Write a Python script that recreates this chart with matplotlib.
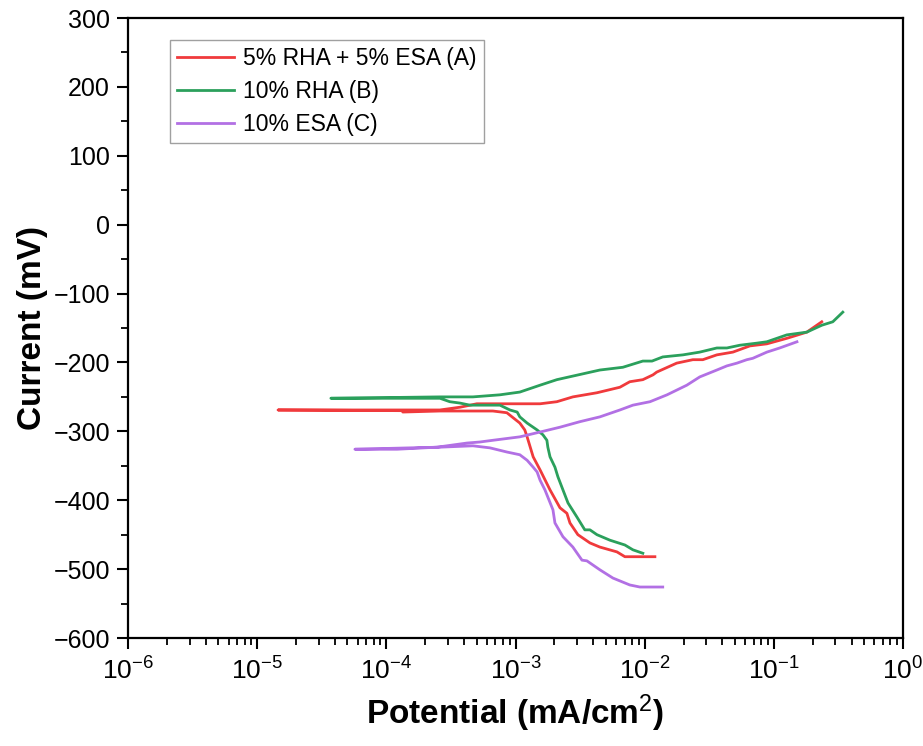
import matplotlib
matplotlib.use("Agg")
import matplotlib.pyplot as plt
from matplotlib.ticker import FixedLocator, MultipleLocator, NullFormatter, LogFormatterMathtext

plt.rcParams['font.family'] = ['Liberation Sans', 'DejaVu Sans']
plt.rcParams['mathtext.fontset'] = 'custom'
plt.rcParams['mathtext.rm'] = 'Liberation Sans'
plt.rcParams['mathtext.it'] = 'Liberation Sans:italic'
plt.rcParams['mathtext.bf'] = 'Liberation Sans:bold'

labels = ["5% RHA + 5% ESA (A)", "10% RHA (B)", "10% ESA (C)"]
colors = ["#F03A3C", "#2BA05C", "#B270E4"]
x_major = [1e-6, 1e-5, 1e-4, 1e-3, 1e-2, 1e-1, 1e0]

# Series A: current density (mA/cm2) and potential (mV), cathodic -> Ecorr -> anodic
a_i = [0.0120, 0.00703, 0.00610, 0.00450, 0.00377, 0.00304, 0.00264, 0.00250, 0.00221,
       0.00185, 0.00155, 0.00137, 0.00123, 0.00118, 0.00108, 0.000857, 0.000668, 0.000260,
       0.000134, 0.000134, 1.45e-5,
       0.000260, 0.000372, 0.000502, 0.000757, 0.00155, 0.00209, 0.00278, 0.00427, 0.00643,
       0.00767, 0.00968, 0.0116, 0.0124, 0.0177, 0.0236, 0.0282, 0.0362, 0.0482, 0.0652,
       0.0883, 0.126, 0.180, 0.235]
a_e = [-482, -482, -475, -468, -462, -450, -433, -419, -411,
       -385, -356, -337, -308, -298, -288, -273, -270.5, -270.5,
       -272, -270, -269,
       -269, -265, -260, -260, -260, -257, -250, -244, -236,
       -228, -225, -218, -214, -201, -196, -196, -189, -185, -176,
       -173, -165, -156, -141]

# Series B
b_i = [0.00968, 0.00811, 0.00703, 0.00538, 0.00427, 0.00377, 0.00344, 0.00298, 0.00255,
       0.00233, 0.00213, 0.00202, 0.00185, 0.00178, 0.00175, 0.00163, 0.00147, 0.00123,
       0.00108, 0.00103, 0.000906, 0.000757, 0.000444, 0.000372, 0.000310, 0.000260, 3.72e-5,
       0.000260, 0.000468, 0.000757, 0.00108, 0.00155, 0.00209, 0.00450, 0.00678, 0.00968,
       0.0114, 0.0138, 0.0198, 0.0267, 0.0362, 0.0433, 0.0546, 0.0738, 0.0883, 0.126,
       0.180, 0.235, 0.286, 0.342]
b_e = [-477, -472, -465, -458, -450, -443, -443, -424, -404,
       -385, -366, -352, -337, -323, -313, -305, -298, -288,
       -279, -272, -269, -262, -262, -259, -257, -252, -252,
       -250, -250, -247, -243, -233, -225, -211, -207, -198,
       -198, -192, -189, -185, -179, -179, -175, -172, -170, -160,
       -156, -146, -141, -127]

# Series C
c_i = [0.0138, 0.00918, 0.00767, 0.00568, 0.00450, 0.00357, 0.00327, 0.00278, 0.00233,
       0.00202, 0.00195, 0.00169, 0.00155, 0.00147, 0.00137, 0.00123, 0.00108, 0.000857,
       0.000634, 0.000468, 0.000260, 0.000152, 5.71e-5,
       0.000121, 0.000247, 0.000421, 0.000529, 0.000668, 0.00108, 0.00155, 0.00221, 0.00315,
       0.00450, 0.00643, 0.00811, 0.0110, 0.0149, 0.0212, 0.0267, 0.0362, 0.0433, 0.0518,
       0.0618, 0.0687, 0.0883, 0.111, 0.151]
c_e = [-526, -526, -523, -513, -501, -488, -487, -468, -453,
       -433, -414, -385, -371, -359, -352, -342, -334, -330,
       -324, -321, -323, -324, -326,
       -326, -323, -317, -315.5, -313, -308, -301, -294, -286,
       -279, -269, -262, -257, -247, -233, -221, -211, -205, -201,
       -196, -194, -185, -179, -170]

fig = plt.figure(figsize=(9.23, 7.46), dpi=100)
ax = fig.add_axes([128/923, 108/746, 775/923, 620/746])

for xs, ys, lab, col in zip([a_i, b_i, c_i], [a_e, b_e, c_e], labels, colors):
    ax.plot(xs, ys, color=col, lw=2.0, label=lab, solid_joinstyle='round')

ax.set_xscale('log')
ax.set_xlim(x_major[0], x_major[-1])
ax.set_ylim(-600, 300)
ax.xaxis.set_major_locator(FixedLocator(x_major))
ax.xaxis.set_major_formatter(LogFormatterMathtext())
ax.xaxis.set_minor_locator(FixedLocator([m * d for d in x_major[:-1] for m in range(2, 10)]))
ax.xaxis.set_minor_formatter(NullFormatter())
ax.yaxis.set_major_locator(MultipleLocator(100))
ax.yaxis.set_minor_locator(MultipleLocator(50))

for s in ax.spines.values():
    s.set_linewidth(1.6)
ax.tick_params(which='major', direction='out', length=8, width=1.5, pad=5,
               top=False, right=False)
ax.tick_params(axis='x', which='major', labelsize=19, pad=6)
ax.tick_params(axis='y', which='major', labelsize=18)
ax.tick_params(which='minor', direction='out', length=5, width=1.3, top=False, right=False)

ax.set_xlabel("Potential (mA/cm$^{2}$)", fontsize=24, fontweight='bold', labelpad=6)
ax.set_ylabel("Current (mV)", fontsize=24, fontweight='bold', labelpad=4)

leg = ax.legend(loc='upper left', bbox_to_anchor=(0.054, 0.965), fontsize=16.5,
                frameon=True, fancybox=False, edgecolor='#888888', handlelength=2.5,
                handletextpad=0.4, borderpad=0.3, labelspacing=0.45, borderaxespad=0)
leg.get_frame().set_linewidth(1.0)

fig.savefig("out.png", dpi=100)
